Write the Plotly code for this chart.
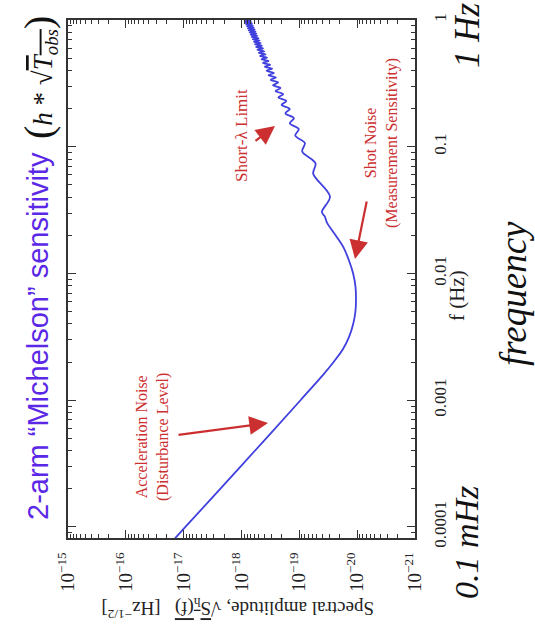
import numpy as np
import plotly.graph_objects as go

# Frequency samples (Hz) along the sensitivity curve
freq_hz = [
    8.13e-5, 1.0e-4, 3.162e-4, 1.0e-3, 1.585e-3, 1.995e-3, 2.512e-3, 3.162e-3,
    3.981e-3, 5.012e-3, 6.310e-3, 7.943e-3, 1.0e-2, 1.259e-2, 1.585e-2,
    1.995e-2, 2.512e-2, 2.818e-2, 0.0306,
    0.0404, 0.0612, 0.0740, 0.0918, 0.1071, 0.1224, 0.1377, 0.1530, 0.1683,
    0.1836, 0.1989, 0.2142, 0.2295, 0.2448, 0.2601, 0.2754, 0.2907, 0.3060,
    0.3213, 0.3366, 0.3519, 0.3672, 0.3825, 0.3978, 0.4131, 0.4284, 0.4437,
    0.4590, 0.4743, 0.4896, 0.5049, 0.5202, 0.5355, 0.5508, 0.5661, 0.5814,
    0.5967, 0.6120, 0.6273, 0.6426, 0.6579, 0.6732, 0.6885, 0.7038, 0.7191,
    0.7344, 0.7497, 0.7650, 0.7803, 0.7956, 0.8109, 0.8262, 0.8415, 0.8568,
    0.8721, 0.8874, 0.9027, 0.9180, 0.9333, 0.9486, 0.9639, 0.9792, 0.9945,
    1.0094,
]

# Spectral amplitude sqrt(S_h(f)) at those frequencies, as log10 [Hz^-1/2]
log10_amplitude = [
    -16.85, -17.03, -18.03, -19.02, -19.41, -19.59, -19.75, -19.86,
    -19.93, -19.97, -19.98, -19.97, -19.93, -19.86, -19.77,
    -19.63, -19.48, -19.44, -19.39,
    -19.53, -19.24, -19.28, -19.05, -19.096, -18.930, -18.990, -18.836, -18.906,
    -18.759, -18.835, -18.694, -18.775, -18.638, -18.722, -18.588, -18.676, -18.544,
    -18.633, -18.504, -18.595, -18.467, -18.560, -18.433, -18.528, -18.402, -18.497,
    -18.373, -18.469, -18.346, -18.443, -18.320, -18.418, -18.296, -18.395, -18.274,
    -18.373, -18.252, -18.352, -18.231, -18.332, -18.212, -18.312, -18.193, -18.294,
    -18.175, -18.276, -18.158, -18.260, -18.141, -18.243, -18.125, -18.228, -18.110,
    -18.213, -18.095, -18.198, -18.081, -18.184, -18.067, -18.171, -18.054, -18.157,
    -18.041,
]

freq_ticks = [1e-4, 1e-3, 1e-2, 1e-1, 1.0]
freq_tick_text = ["0.0001", "0.001", "0.01", "0.1", "1"]

amplitude = 10.0 ** np.array(log10_amplitude)

SERIF = "Liberation Serif, Times New Roman, serif"
SANS = "Liberation Sans, Arial, sans-serif"
RED = "#cc2f2f"
AXIS = "#333333"

# plot area in pixels: x 68..415, y 20..538
L, R, T, B = 68, 120, 20, 93
W, H = 535, 631
PW, PH = W - L - R, H - T - B


def px(x):
    return (x - L) / PW


def py(y):
    return (H - B - y) / PH


fig = go.Figure()
fig.add_trace(go.Scatter(
    x=amplitude, y=freq_hz, mode="lines",
    line=dict(color="#4040de", width=1.8, shape="spline", smoothing=0.9),
    hoverinfo="skip", showlegend=False,
))

axis_common = dict(
    type="log", showgrid=False, zeroline=False, showline=True,
    linecolor=AXIS, linewidth=1.5, mirror="allticks",
    ticks="inside", ticklen=8, tickwidth=1, tickcolor=AXIS,
    minor=dict(ticks="inside", ticklen=4, tickwidth=1, tickcolor=AXIS,
               dtick="D1", showgrid=False),
)

fig.update_xaxes(
    **axis_common, range=[-15, -21], dtick=1, exponentformat="power",
    tickangle=-90, ticklabelstandoff=6,
    tickfont=dict(family=SERIF, size=15, color="#222222"),
)
fig.update_yaxes(
    **axis_common, range=[-4.087, 0], side="right",
    tickmode="array", tickvals=freq_ticks, ticktext=freq_tick_text,
    tickangle=-90, ticklabelstandoff=9,
    tickfont=dict(family=SERIF, size=17, color="#222222"),
)

ann = []


def text(x, y, s, size, color="#000000", family=SERIF, angle=-90):
    ann.append(dict(
        x=px(x), y=py(y), xref="paper", yref="paper", text=s,
        showarrow=False, textangle=angle, xanchor="center", yanchor="middle",
        font=dict(family=family, size=size, color=color),
    ))


def arrow(tail, head):
    ann.append(dict(
        x=px(head[0]), y=py(head[1]), xref="paper", yref="paper", text="",
        showarrow=True, ax=tail[0] - head[0], ay=tail[1] - head[1],
        arrowhead=2, arrowsize=1.7, arrowwidth=2.2, arrowcolor=RED,
        standoff=0, startstandoff=0,
    ))


# axis titles
text(457, 295, "f (Hz)", 21, "#222222")
text(238, 609,
     "Spectral amplitude, √<span style='text-decoration:overline'>S<sub>h</sub>(f)</span>"
     "   [Hz<sup>−1/2</sup>]", 19, "#222222", angle=180)

# curve regions
text(241, 136, "Short-λ Limit", 17, RED)
arrow((254, 142), (275, 126))
text(381, 143, "Shot Noise<br>(Measurement Sensitivity)", 16, RED)
arrow((367, 200), (355, 259))
text(152, 437, "Acceleration Noise<br>(Disturbance Level)", 16, RED)
arrow((177, 435), (268, 423))

# outer labels
text(38, 336, "2-arm “Michelson” sensitivity", 29, "#5a28e6", family=SANS)
text(39, 78,
     "<span style='font-size:40px'>(</span><i>h</i> * √"
     "<span style='text-decoration:overline'><i>T</i><sub><i>obs</i></sub></span>"
     "<span style='font-size:40px'>)</span>", 27, "#111111")
text(467, 35, "<i>1 Hz</i>", 35, "#111111")
text(513, 294, "<i>frequency</i>", 37, "#111111")
text(466, 542, "<i>0.1 mHz</i>", 34, "#111111")

fig.update_layout(
    width=W, height=H, margin=dict(l=L, r=R, t=T, b=B, pad=0),
    paper_bgcolor="white", plot_bgcolor="white",
    annotations=ann, showlegend=False,
)

fig.write_html("out.html")
